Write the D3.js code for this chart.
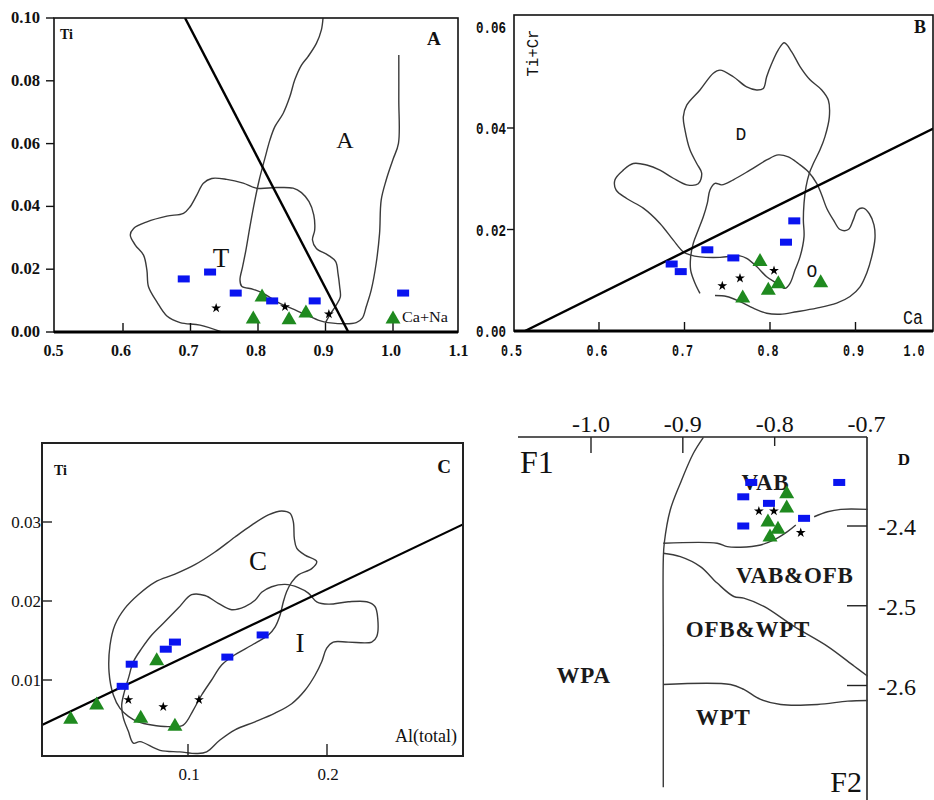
<!DOCTYPE html>
<html><head><meta charset="utf-8">
<script src="https://cdn.jsdelivr.net/npm/d3@7"></script>
<style>body{margin:0;background:#fff}svg{display:block}</style>
</head><body>
<svg id="c" width="934" height="800"></svg>
<script>
// ===================== DATA =====================
// Panel A : Ca+Na (x) vs Ti (y)
const aXTicks = [0.5,0.6,0.7,0.8,0.9,1.0,1.1];
const aYTicks = [0,0.02,0.04,0.06,0.08,0.10];
const aBlue  = [[0.690,0.0169],[0.729,0.0191],[0.767,0.0124],[0.821,0.0099],[0.884,0.0099],[1.015,0.0124]];
const aGreen = [[0.806,0.0118],[0.793,0.0048],[0.846,0.0045],[0.871,0.0067],[1.000,0.0048]];
const aStars = [[0.738,0.0076],[0.840,0.0080],[0.905,0.0057]];
const aDivider = [[0.6919,0.100],[0.9338,0.000]];
const aRegionT = [[0.7462,0],[0.7142,0.0022],[0.6846,0.0030],[0.6650,0.0051],[0.6502,0.0096],[0.6378,0.0144],[0.6354,0.0197],[0.6304,0.0245],[0.6182,0.0277],[0.6108,0.0309],[0.6157,0.0330],[0.6354,0.0351],[0.6650,0.0369],[0.6896,0.0378],[0.6994,0.0399],[0.7093,0.0436],[0.7191,0.0474],[0.7314,0.0489],[0.7536,0.0486],[0.7781,0.0474],[0.7979,0.0458],[0.8274,0.0460],[0.8520,0.0458],[0.8644,0.0444],[0.8756,0.0415],[0.8826,0.0373],[0.8840,0.0325],[0.8807,0.0293],[0.8865,0.0266],[0.9037,0.0245],[0.9151,0.0224],[0.9185,0.0187],[0.9210,0.0144],[0.9220,0.0112],[0.9161,0.0086],[0.9062,0.0054],[0.9000,0.0030]];
const aRegionA = [[0.8963,0.0999],[0.8939,0.0962],[0.8865,0.0919],[0.8741,0.0877],[0.8644,0.0850],[0.8545,0.0803],[0.8471,0.0749],[0.8372,0.0696],[0.8250,0.0654],[0.8176,0.0611],[0.8102,0.0553],[0.8018,0.0484],[0.7954,0.0420],[0.7880,0.0335],[0.7821,0.0261],[0.7772,0.0208],[0.7733,0.0166],[0.7758,0.0146],[0.7929,0.0136],[0.8077,0.0123],[0.8274,0.0097],[0.8496,0.0075],[0.8718,0.0054],[0.8914,0.0036],[0.9037,0.0030],[0.9456,0.0030],[0.9545,0.0044],[0.9604,0.0081],[0.9678,0.0134],[0.9751,0.0219],[0.9801,0.0314],[0.9825,0.0420],[0.9899,0.0484],[0.9997,0.0548],[1.0081,0.0601],[1.0086,0.0739],[1.0086,0.0882]];

// Panel B : Ca (x) vs Ti+Cr (y)
const bXTicks = [0.5,0.6,0.7,0.8,0.9,1.0];
const bYTicks = [0,0.02,0.04,0.06];
const bBlue  = [[0.6850,0.0132],[0.6956,0.0117],[0.7267,0.0160],[0.7571,0.0144],[0.8187,0.0175],[0.8284,0.0217]];
const bGreen = [[0.7883,0.0141],[0.7681,0.0069],[0.7980,0.0084],[0.8097,0.0097],[0.8593,0.0099]];
const bStars = [[0.7442,0.0089],[0.7649,0.0104],[0.8047,0.0119]];
const bDivider = [[0.5134,0.0],[0.9910,0.0399]];
const bRegionD = [[0.8167,0.0568],[0.8254,0.0550],[0.8351,0.0521],[0.8468,0.0495],[0.8605,0.0475],[0.8682,0.0455],[0.8694,0.0422],[0.8643,0.0383],[0.8585,0.0357],[0.8507,0.0330],[0.8460,0.0311],[0.8421,0.0284],[0.8398,0.0252],[0.8390,0.0219],[0.8398,0.0186],[0.8351,0.0146],[0.8292,0.0120],[0.8234,0.0094],[0.8175,0.0084],[0.8078,0.0094],[0.7961,0.0107],[0.7844,0.0127],[0.7727,0.0143],[0.7649,0.0148],[0.7415,0.0145],[0.7181,0.0146],[0.7064,0.0150],[0.6986,0.0156],[0.6869,0.0179],[0.6713,0.0212],[0.6518,0.0242],[0.6324,0.0261],[0.6199,0.0278],[0.6187,0.0298],[0.6284,0.0317],[0.6401,0.0330],[0.6558,0.0327],[0.6713,0.0317],[0.6869,0.0301],[0.7026,0.0288],[0.7161,0.0290],[0.7201,0.0311],[0.7143,0.0330],[0.7064,0.0357],[0.7006,0.0396],[0.6986,0.0422],[0.7026,0.0445],[0.7181,0.0475],[0.7337,0.0508],[0.7415,0.0514],[0.7571,0.0501],[0.7727,0.0481],[0.7844,0.0475],[0.7922,0.0478],[0.7961,0.0501],[0.8020,0.0527],[0.8097,0.0554]];
const bRegionO = [[0.7181,0.0074],[0.7123,0.0094],[0.7072,0.0120],[0.7072,0.0146],[0.7103,0.0173],[0.7161,0.0199],[0.7220,0.0225],[0.7267,0.0252],[0.7298,0.0278],[0.7357,0.0291],[0.7435,0.0288],[0.7571,0.0298],[0.7766,0.0317],[0.7961,0.0337],[0.8097,0.0347],[0.8214,0.0343],[0.8331,0.0330],[0.8448,0.0314],[0.8546,0.0291],[0.8605,0.0268],[0.8663,0.0242],[0.8741,0.0219],[0.8819,0.0200],[0.8916,0.0200],[0.8974,0.0219],[0.9021,0.0238],[0.9091,0.0242],[0.9162,0.0231],[0.9216,0.0209],[0.9228,0.0183],[0.9189,0.0146],[0.9131,0.0114],[0.9053,0.0087],[0.8936,0.0068],[0.8780,0.0055],[0.8546,0.0045],[0.8312,0.0038],[0.8117,0.0033],[0.7961,0.0035],[0.7805,0.0045],[0.7649,0.0058],[0.7493,0.0068],[0.7357,0.0070]];

// Panel C : Al(total) (x) vs Ti (y)
const cXTicks = [0.1,0.2];
const cYTicks = [0.01,0.02,0.03];
const cBlue  = [[0.0530,0.0092],[0.0595,0.0120],[0.0840,0.0139],[0.0906,0.0148],[0.1283,0.0129],[0.1537,0.0157]];
const cGreen = [[0.0156,0.0053],[0.0343,0.0071],[0.0775,0.0127],[0.0660,0.0054],[0.0906,0.0044]];
const cStars = [[0.0571,0.0075],[0.0822,0.0066],[0.1079,0.0075]];
const cDivider = [[-0.0050,0.0043],[0.2978,0.0297]];
const cRegionC = [[0.1578,0.0309],[0.1674,0.0314],[0.1734,0.0311],[0.1758,0.0300],[0.1765,0.0279],[0.1782,0.0267],[0.1842,0.0258],[0.1926,0.0250],[0.1890,0.0241],[0.1794,0.0233],[0.1746,0.0224],[0.1710,0.0212],[0.1686,0.0199],[0.1662,0.0182],[0.1626,0.0167],[0.1578,0.0157],[0.1458,0.0144],[0.1338,0.0132],[0.1242,0.0119],[0.1170,0.0100],[0.1098,0.0081],[0.1038,0.0062],[0.0966,0.0043],[0.0858,0.0041],[0.0739,0.0043],[0.0642,0.0047],[0.0571,0.0054],[0.0511,0.0064],[0.0463,0.0081],[0.0432,0.0110],[0.0439,0.0144],[0.0475,0.0170],[0.0547,0.0191],[0.0642,0.0208],[0.0763,0.0224],[0.0906,0.0234],[0.1050,0.0246],[0.1194,0.0262],[0.1338,0.0281],[0.1458,0.0296]];
const cRegionI = [[0.1026,0.0208],[0.1122,0.0207],[0.1218,0.0197],[0.1314,0.0189],[0.1410,0.0193],[0.1482,0.0201],[0.1530,0.0211],[0.1602,0.0218],[0.1698,0.0221],[0.1794,0.0217],[0.1866,0.0210],[0.1926,0.0199],[0.2010,0.0196],[0.2153,0.0199],[0.2286,0.0199],[0.2345,0.0193],[0.2365,0.0178],[0.2358,0.0155],[0.2322,0.0148],[0.2153,0.0148],[0.2045,0.0148],[0.1997,0.0140],[0.1962,0.0123],[0.1914,0.0106],[0.1842,0.0087],[0.1746,0.0070],[0.1626,0.0058],[0.1482,0.0047],[0.1338,0.0037],[0.1230,0.0024],[0.1134,0.0009],[0.1062,0.0007],[0.0942,0.0009],[0.0799,0.0011],[0.0655,0.0022],[0.0607,0.0020],[0.0571,0.0035],[0.0535,0.0052],[0.0523,0.0068],[0.0542,0.0085],[0.0571,0.0102],[0.0607,0.0123],[0.0667,0.0140],[0.0739,0.0157],[0.0835,0.0174],[0.0930,0.0191]];

// Panel D : F1 (x) vs F2 (y)
const dXTicks = [-1.0,-0.9,-0.8,-0.7];
const dYTicks = [-2.4,-2.5,-2.6];
const dBlue  = [[-0.8255,-2.3454],[-0.8342,-2.3634],[-0.8062,-2.3716],[-0.8342,-2.4000],[-0.7680,-2.3904],[-0.7297,-2.3454]];
const dGreen = [[-0.7869,-2.3571],[-0.7869,-2.3750],[-0.8073,-2.3925],[-0.7964,-2.4016],[-0.8051,-2.4113]];
const dStars = [[-0.8172,-2.3813],[-0.8008,-2.3813],[-0.7716,-2.4084]];
const dLineLeft = [[-0.8776,-2.2888],[-0.8885,-2.3088],[-0.9027,-2.3463],[-0.9137,-2.3800],[-0.9202,-2.4213],[-0.9213,-2.4425],[-0.9213,-2.5500],[-0.9213,-2.7275]];
const dLineVAB1 = [[-0.9213,-2.4216],[-0.8626,-2.4216],[-0.8517,-2.4259],[-0.8372,-2.4266],[-0.8153,-2.4238],[-0.8008,-2.4175],[-0.7861,-2.4071],[-0.7770,-2.3988]];
const dLineVAB2 = [[-0.7570,-2.3884],[-0.7424,-2.3821],[-0.7279,-2.3791],[-0.6987,-2.3791]];
const dLineOFB = [[-0.9216,-2.4341],[-0.9027,-2.4384],[-0.8809,-2.4509],[-0.8626,-2.4716],[-0.8445,-2.4884],[-0.8336,-2.4904],[-0.8117,-2.5009],[-0.7789,-2.5259],[-0.7424,-2.5509],[-0.7133,-2.5759],[-0.6987,-2.5884]];
const dLineWPT = [[-0.9216,-2.5988],[-0.8481,-2.5988],[-0.8336,-2.6050],[-0.8153,-2.6175],[-0.7934,-2.6238],[-0.7533,-2.6238],[-0.7205,-2.6196],[-0.6987,-2.6188]];
const dFieldLabels = [["VAB",-0.8100,-2.3550],["VAB&OFB",-0.7780,-2.4720],["WPA",-1.0080,-2.5970],["OFB&WPT",-0.8290,-2.5390],["WPT",-0.8560,-2.6490]];

// ===================== DRAWING =====================
const svg = d3.select('#c');
svg.append('rect').attr('width',934).attr('height',800).attr('fill','#fff');
const SERIF = "'Liberation Serif','Times New Roman',serif";
const MONO = "'Liberation Mono','DejaVu Sans Mono',monospace";
const BLUE = '#0a14f0', GREEN = '#1f8a1f', CONT = '#3a3a3a';

function contour(g, pts, sx, sy, closed){
  const ln = d3.line().x(d=>sx(d[0])).y(d=>sy(d[1]))
    .curve(closed ? d3.curveCatmullRomClosed : d3.curveCatmullRom);
  g.append('path').attr('d', ln(pts)).attr('fill','none')
    .attr('stroke',CONT).attr('stroke-width',1.4).attr('stroke-linejoin','round');
}
function straight(g, pts, sx, sy, w){
  g.append('line').attr('x1',sx(pts[0][0])).attr('y1',sy(pts[0][1]))
    .attr('x2',sx(pts[1][0])).attr('y2',sy(pts[1][1]))
    .attr('stroke','#000').attr('stroke-width',w);
}
function markers(g, sx, sy, blue, green, stars){
  g.selectAll(null).data(green).join('path')
    .attr('d','M0,-7L7.5,6L-7.5,6Z')
    .attr('transform',d=>`translate(${sx(d[0])},${sy(d[1])+0.5})`)
    .attr('fill',GREEN);
  g.selectAll(null).data(blue).join('rect')
    .attr('x',d=>sx(d[0])-6).attr('y',d=>sy(d[1])-3.5)
    .attr('width',12).attr('height',7).attr('fill',BLUE);
  const star = d3.symbol(d3.symbolStar, 30);
  g.selectAll(null).data(stars).join('path')
    .attr('d',star)
    .attr('transform',d=>`translate(${sx(d[0])},${sy(d[1])})`)
    .attr('fill','#000');
}
function txt(g, s, x, y, opt){
  const t = g.append('text').attr('x',x).attr('y',y).text(s)
    .attr('font-family',opt.font||SERIF).attr('font-size',opt.size||14)
    .attr('font-weight',opt.weight||'normal').attr('text-anchor',opt.anchor||'start')
    .attr('fill',opt.fill||'#111');
  if(opt.len){ t.attr('textLength',opt.len).attr('lengthAdjust','spacingAndGlyphs'); }
  if(opt.ls){ t.attr('letter-spacing',opt.ls); }
  if(opt.rotate){ t.attr('transform',`rotate(${opt.rotate},${x},${y})`); }
  return t;
}

// ---------- Panel A ----------
(function(){
  const g = svg.append('g');
  const sx = d3.scaleLinear().domain([0.5,1.1]).range([55.5,460.5]);
  const sy = d3.scaleLinear().domain([0,0.1]).range([332,18]);
  const L=54,T=18,R=458,B=332;
  const clip = g.append('clipPath').attr('id','clipA');
  clip.append('rect').attr('x',L).attr('y',T).attr('width',R-L).attr('height',B-T);
  const inner = g.append('g').attr('clip-path','url(#clipA)');
  contour(inner, aRegionT, sx, sy, false);
  contour(inner, aRegionA, sx, sy, false);
  straight(inner, aDivider, sx, sy, 2.4);
  g.append('rect').attr('x',L).attr('y',T).attr('width',R-L).attr('height',B-T)
    .attr('fill','none').attr('stroke','#111').attr('stroke-width',1.6);
  g.append('line').attr('x1',L).attr('x2',R).attr('y1',B).attr('y2',B).attr('stroke','#000').attr('stroke-width',2.8);
  aYTicks.forEach(v=>{
    g.append('line').attr('x1',L-8).attr('x2',L).attr('y1',sy(v)).attr('y2',sy(v)).attr('stroke','#111').attr('stroke-width',1.4);
    txt(g, d3.format('.2f')(v), 40, sy(v)+5, {size:16, anchor:'end', weight:'bold', len:29});
  });
  aXTicks.forEach(v=>{
    if(v>0.5 && v<1.1) g.append('line').attr('x1',sx(v)).attr('x2',sx(v)).attr('y1',B).attr('y2',B-9).attr('stroke','#111').attr('stroke-width',1.4);
    txt(g, d3.format('.1f')(v), sx(v)-2, 356, {size:16, anchor:'middle', weight:'bold', len:20});
  });
  txt(g,'Ti',60,39,{size:14,weight:'bold'});
  txt(g,'A',427,45,{size:19,weight:'bold'});
  txt(g,'A',345,148,{size:24,anchor:'middle'});
  txt(g,'T',221,267,{size:27,anchor:'middle'});
  txt(g,'Ca+Na',402,322,{size:14,len:46});
  markers(g, sx, sy, aBlue, aGreen, aStars);
})();

// ---------- Panel B ----------
(function(){
  const g = svg.append('g');
  const sx = d3.scaleLinear().domain([0.5,1.0]).range([513.5,941]);
  const sy = d3.scaleLinear().domain([0,0.06]).range([331,26.5]);
  const L=514,T=15,R=933,B=331;
  const clip = g.append('clipPath').attr('id','clipB');
  clip.append('rect').attr('x',L).attr('y',T).attr('width',R-L).attr('height',B-T);
  const inner = g.append('g').attr('clip-path','url(#clipB)');
  contour(inner, bRegionD, sx, sy, true);
  contour(inner, bRegionO, sx, sy, false);
  straight(inner, bDivider, sx, sy, 2.4);
  g.append('rect').attr('x',L).attr('y',T).attr('width',R-L).attr('height',B-T)
    .attr('fill','none').attr('stroke','#111').attr('stroke-width',1.6);
  g.append('line').attr('x1',L).attr('x2',R).attr('y1',B).attr('y2',B).attr('stroke','#000').attr('stroke-width',2.8);
  bYTicks.forEach(v=>{
    if(v>0 && v<0.06) g.append('line').attr('x1',L-7).attr('x2',L).attr('y1',sy(v)).attr('y2',sy(v)).attr('stroke','#111').attr('stroke-width',1.4);
    txt(g, d3.format('.2f')(v), 506, Math.max(sy(v),19)+6, {font:MONO,size:17,anchor:'end',len:30,weight:'bold'});
  });
  bXTicks.forEach(v=>{
    if(v>0.5 && v<1.0) g.append('line').attr('x1',sx(v)).attr('x2',sx(v)).attr('y1',B).attr('y2',B-9).attr('stroke','#111').attr('stroke-width',1.4);
    txt(g, d3.format('.1f')(v), Math.min(sx(v)-2,914), 356, {font:MONO,size:17,anchor:'middle',len:21,weight:'bold'});
  });
  txt(g,'Ti+Cr',538,53,{font:MONO,size:17,anchor:'middle',rotate:-90,len:47});
  txt(g,'B',920,33,{size:18,weight:'bold',anchor:'middle'});
  txt(g,'Ca',913,324,{font:MONO,size:20,anchor:'middle',len:20});
  txt(g,'D',741,140,{font:MONO,size:18,anchor:'middle'});
  txt(g,'O',812,277,{font:MONO,size:18,anchor:'middle'});
  markers(g, sx, sy, bBlue, bGreen, bStars);
})();

// ---------- Panel C ----------
(function(){
  const g = svg.append('g');
  const sx = d3.scaleLinear().domain([0,0.1]).range([49,188]);
  const sy = d3.scaleLinear().domain([0,0.01]).range([759,680]);
  const L=42,T=443,R=463,B=756;
  const clip = g.append('clipPath').attr('id','clipC');
  clip.append('rect').attr('x',L).attr('y',T).attr('width',R-L).attr('height',B-T);
  const inner = g.append('g').attr('clip-path','url(#clipC)');
  contour(inner, cRegionC, sx, sy, true);
  contour(inner, cRegionI, sx, sy, true);
  straight(inner, cDivider, sx, sy, 2.2);
  g.append('rect').attr('x',L).attr('y',T).attr('width',R-L).attr('height',B-T)
    .attr('fill','none').attr('stroke','#222').attr('stroke-width',2);
  cYTicks.forEach(v=>{
    g.append('line').attr('x1',L).attr('x2',L+10).attr('y1',sy(v)).attr('y2',sy(v)).attr('stroke','#222').attr('stroke-width',1.4);
    txt(g, d3.format('.2f')(v), 41, sy(v)+6, {size:17, anchor:'end'});
  });
  cXTicks.forEach(v=>{
    g.append('line').attr('x1',sx(v)).attr('x2',sx(v)).attr('y1',B).attr('y2',B-12).attr('stroke','#222').attr('stroke-width',1.4);
    txt(g, d3.format('.1f')(v), sx(v)+1, 780, {size:17, anchor:'middle'});
  });
  txt(g,'Ti',54,475,{size:14,weight:'bold'});
  txt(g,'C',444,473,{size:19,weight:'bold',anchor:'middle'});
  txt(g,'C',258,570,{size:27,anchor:'middle'});
  txt(g,'I',300,652,{size:27,anchor:'middle'});
  txt(g,'Al(total)',457,742,{size:18,anchor:'end'});
  markers(g, sx, sy, cBlue, cGreen, cStars);
})();

// ---------- Panel D ----------
(function(){
  const g = svg.append('g');
  const sx = d3.scaleLinear().domain([-1.0,-0.7]).range([591,866.5]);
  const sy = d3.scaleLinear().domain([-2.4,-2.6]).range([526,685.5]);
  const AX=867, AY=437;
  g.append('line').attr('x1',518).attr('x2',AX).attr('y1',AY).attr('y2',AY).attr('stroke','#222').attr('stroke-width',1.6);
  g.append('line').attr('x1',AX).attr('x2',AX).attr('y1',AY).attr('y2',800).attr('stroke','#222').attr('stroke-width',1.6);
  dXTicks.forEach(v=>{
    if(v<-0.75) g.append('line').attr('x1',sx(v)).attr('x2',sx(v)).attr('y1',AY).attr('y2',AY+(v>-0.85?9:16)).attr('stroke','#222').attr('stroke-width',1.4);
    txt(g, d3.format('.1f')(v).replace('−','-'), sx(v), 432, {size:24, anchor:'middle'});
  });
  dYTicks.forEach(v=>{
    g.append('line').attr('x1',AX-20).attr('x2',AX).attr('y1',sy(v)).attr('y2',sy(v)).attr('stroke','#222').attr('stroke-width',1.4);
    txt(g, d3.format('.1f')(v).replace('−','-'), 878, sy(v)+9, {size:24});
  });
  [dLineLeft,dLineVAB1,dLineVAB2,dLineOFB,dLineWPT].forEach(p=>contour(g,p,sx,sy,false));
  txt(g,'F1',520,473,{size:32});
  txt(g,'F2',862,792,{size:30,anchor:'end'});
  txt(g,'D',904,465,{size:17,weight:'bold',anchor:'middle'});
  dFieldLabels.forEach(d=>{
    txt(g, d[0], sx(d[1]), sy(d[2]), {size:23, weight:'bold', anchor:'middle', ls:0.8, fill:'#1a1a1a'});
  });
  markers(g, sx, sy, dBlue, dGreen, dStars);
})();
</script>
</body></html>
